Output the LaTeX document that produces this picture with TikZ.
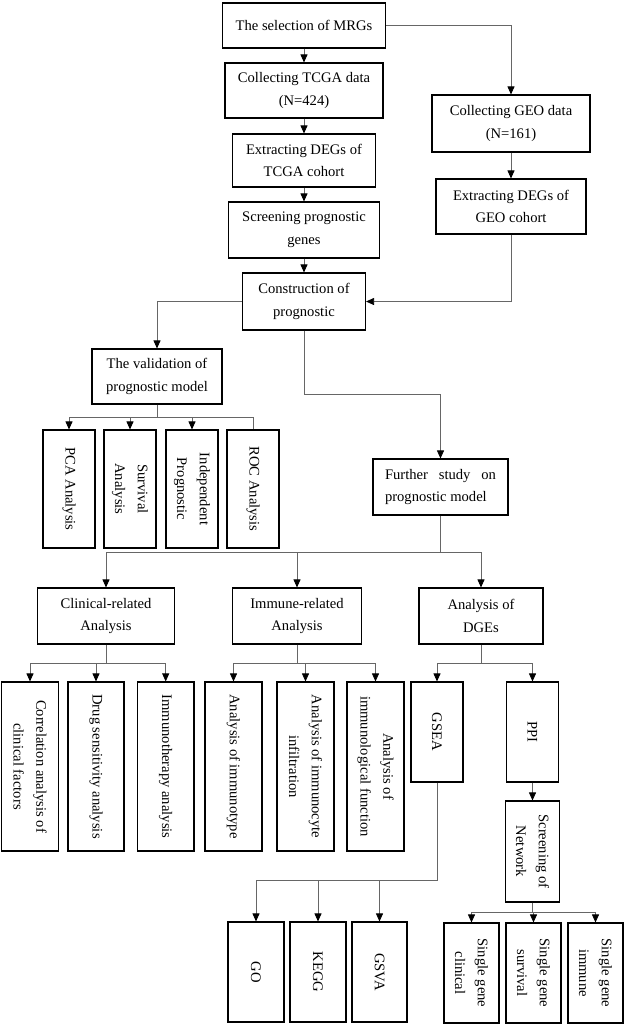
\documentclass[tikz,border=0pt]{standalone}
\usepackage{fontspec}
\setmainfont{Liberation Serif}
\usetikzlibrary{arrows.meta}

\tikzset{
  box/.style={draw=black, line width=1.1pt, align=center, inner sep=2pt},
  vbox/.style={box, rotate=-90},
  link/.style={draw=black!60, line width=0.8pt},
  arr/.style={link, -{Triangle[width=7pt,length=8pt,color=black]}}
}

\begin{document}
\begin{tikzpicture}[x=1pt,y=-1pt,font=\fontsize{14.6}{22.7}\selectfont]
\useasboundingbox (0,0) rectangle (625,1026);

% main column:
\node[box,minimum width=163,minimum height=45] (mrgs) at (304,25.5) {The selection of MRGs};
\node[box,minimum width=158,minimum height=55] (tcga) at (304,90.5) {Collecting TCGA data\\(N=424)};
\node[box,minimum width=143,minimum height=53] (degtcga) at (304,160.5) {Extracting DEGs of\\TCGA cohort};
\node[box,minimum width=151,minimum height=56] (screen) at (304,230) {Screening prognostic\\genes};
\node[box,minimum width=123,minimum height=57] (constr) at (304,301.5) {Construction of\\prognostic};

% GEO column:
\node[box,minimum width=158,minimum height=57] (geo) at (511,123.5) {Collecting GEO data\\(N=161)};
\node[box,minimum width=150,minimum height=55] (deggeo) at (511,206.5) {Extracting DEGs of\\GEO cohort};

\draw[arr] (mrgs) -- (tcga);
\draw[arr] (mrgs.east) -| (geo.north);
\draw[arr] (tcga) -- (degtcga);
\draw[arr] (degtcga) -- (screen);
\draw[arr] (screen) -- (constr);
\draw[arr] (geo) -- (deggeo);
\draw[arr] (deggeo.south) |- (constr.east);

% validation:
\node[box,minimum width=130,minimum height=55] (valid) at (157,376.5) {The validation of\\prognostic model};
\node[vbox,minimum width=118,minimum height=52] (pca) at (69,489) {PCA Analysis};
\node[vbox,minimum width=118,minimum height=52] (surv) at (130,489) {Survival\\Analysis};
\node[vbox,minimum width=118,minimum height=52] (indep) at (192,489) {Independent\\Prognostic};
\node[vbox,minimum width=118,minimum height=52] (roc) at (253,489) {ROC Analysis};

\draw[arr] (constr.west) -| (valid.north);
\draw[link] (valid.south) -- ++(0,13) coordinate (vbar) -| (roc.west);
\foreach \n in {pca,surv,indep}
  \draw[arr] (vbar) -| (\n.west);

% further study:
\node[box,minimum width=135,minimum height=56,text width=111,align=justify] (further) at (440.5,487) {Further study on prognostic model};
\draw[arr] (constr.south) -- ++(0,64) -| (further.north);

\node[box,minimum width=137.5,minimum height=56] (clin) at (106,616) {Clinical-related\\Analysis};
\node[box,minimum width=129.5,minimum height=56] (immune) at (297,616) {Immune-related\\Analysis};
\node[box,minimum width=124,minimum height=56] (dges) at (481,616) {Analysis of\\DGEs};

\draw[link] (further.south) -- ++(0,37) coordinate (fbar);
\foreach \n in {clin,immune,dges}
  \draw[arr] (fbar) -| (\n.north);

% clinical / immune leaves:
\node[vbox,minimum width=169,minimum height=56.5] (corr) at (30,766.5) {Correlation analysis of\\clinical factors};
\node[vbox,minimum width=169,minimum height=56] (drug) at (96,766.5) {Drug sensitivity analysis};
\node[vbox,minimum width=169,minimum height=56.5] (immther) at (165.7,766.5) {Immunotherapy analysis};
\node[vbox,minimum width=169,minimum height=57] (itype) at (233.5,766.5) {Analysis of immunotype};
\node[vbox,minimum width=169,minimum height=57] (icyte) at (305.5,766.5) {Analysis of immunocyte\\infiltration};
\node[vbox,minimum width=169,minimum height=57] (ifunc) at (375.5,766.5) {Analysis of\\immunological function};

\draw[link] (clin.south) -- ++(0,19) coordinate (cbar);
\foreach \n in {corr,drug,immther}
  \draw[arr] (cbar) -| (\n.west);
\draw[link] (immune.south) -- ++(0,19) coordinate (ibar);
\foreach \n in {itype,icyte,ifunc}
  \draw[arr] (ibar) -| (\n.west);

% DGEs branch:
\node[vbox,minimum width=100,minimum height=52] (gsea) at (437,732) {GSEA};
\node[vbox,minimum width=100,minimum height=51.5] (ppi) at (532.5,732) {PPI};
\node[vbox,minimum width=101,minimum height=53.5] (network) at (532.5,851.5) {Screening of\\Network};

\draw[link] (dges.south) -- ++(0,19) coordinate (dbar);
\foreach \n in {gsea,ppi}
  \draw[arr] (dbar) -| (\n.west);
\draw[arr] (ppi.east) -- (network.west);

\node[vbox,minimum width=100,minimum height=56] (go) at (256,972) {GO};
\node[vbox,minimum width=100,minimum height=56] (kegg) at (318,972) {KEGG};
\node[vbox,minimum width=100,minimum height=55] (gsva) at (379.5,972) {GSVA};

\draw[link] (gsea.east) -- ++(0,98) coordinate (gbar);
\foreach \n in {go,kegg,gsva}
  \draw[arr] (gbar) -| (\n.west);

\node[vbox,minimum width=100,minimum height=55] (sgclin) at (471.5,973) {Single gene\\clinical};
\node[vbox,minimum width=100,minimum height=55] (sgsurv) at (533.5,973) {Single gene\\survival};
\node[vbox,minimum width=100,minimum height=55] (sgimm) at (595.5,973) {Single gene\\immune};

\draw[link] (network.east) -- ++(0,10) coordinate (nbar);
\foreach \n in {sgclin,sgsurv,sgimm}
  \draw[arr] (nbar) -| (\n.west);

\end{tikzpicture}
\end{document}
